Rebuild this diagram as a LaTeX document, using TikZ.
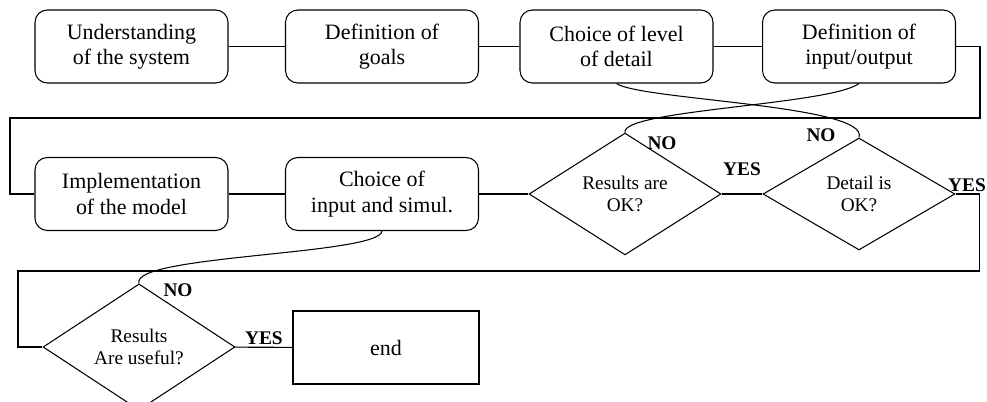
\documentclass[tikz,border=0pt]{standalone}
\usepackage{fontspec}
\setmainfont{Liberation Serif}
\usetikzlibrary{shapes.geometric}

\begin{document}
\begin{tikzpicture}[x=0.02cm, y=-0.02cm, line width=0.6pt,
  yesno/.style={font=\fontsize{11}{13}\selectfont\bfseries, inner sep=1pt}]
\useasboundingbox (0,0) rectangle (987,402);

   \begin{scope}[every node/.style={draw, rounded corners=7pt, minimum width=3.86cm, minimum height=1.46cm,
       align=center, font=\fontsize{12.5}{14.5}\selectfont}]
    \node (b1) at (131.5,46.5) {Understanding\\of the system};
    \node (b2) at (382,46.5) {Definition of\\goals};
    \node (b3) at (616.5,46.5) {Choice of level\\of detail};
    \node (b4) at (859,46.5) {Definition of\\input/output};
    \node (b5) at (131.5,194) {Implementation\\of the model};
    \node (b6) at (382,194) {Choice of\\input and simul.};
   \end{scope}
   \begin{scope}[every node/.style={draw, diamond, inner sep=0pt, minimum width=3.84cm, minimum height=2.24cm,
       align=center, font=\fontsize{11}{13}\selectfont}]
    \node (d1) at (625,194) {Results are\\OK?};
    \node (d2) at (859,194) {Detail is\\OK?};
    \node[minimum height=2.2cm] (d3) at (139,347) {Results\\Are useful?};
   \end{scope}
\node[draw, minimum width=3.72cm, minimum height=1.46cm, font=\fontsize{12.5}{14.5}\selectfont] (end) at (386,347.5) {end};

\draw (b1) -- (b2);
\draw (b2) -- (b3);
\draw (b3) -- (b4);
\draw (b4.east) -- ++(24,0) |- (10,118) |- (b5.west);
\draw (b5) -- (b6);
\draw (b6) -- (d1);
\draw (d1) edge node[yesno, above=9pt]{YES} (d2);
\draw (d2.east) -- ++(24,0) |- (18,271) |- (d3.west);
\draw (d3) edge node[yesno, above]{YES} (end);

\draw (b3.south) .. controls (640,100) and (870,105) .. (d2.north);
\draw (b4.south) .. controls (830,105) and (620,110) .. (d1.north);
\draw (b6.south) .. controls (380,255) and (130,255) .. (d3.north);

\node[yesno] (no1) at (662,143) {NO};
\node[yesno] (no2) at (821,135) {NO};
\node[yesno] (yes2) at (967,185) {YES};
\node[yesno] (no3) at (178,290) {NO};
\end{tikzpicture}
\end{document}
